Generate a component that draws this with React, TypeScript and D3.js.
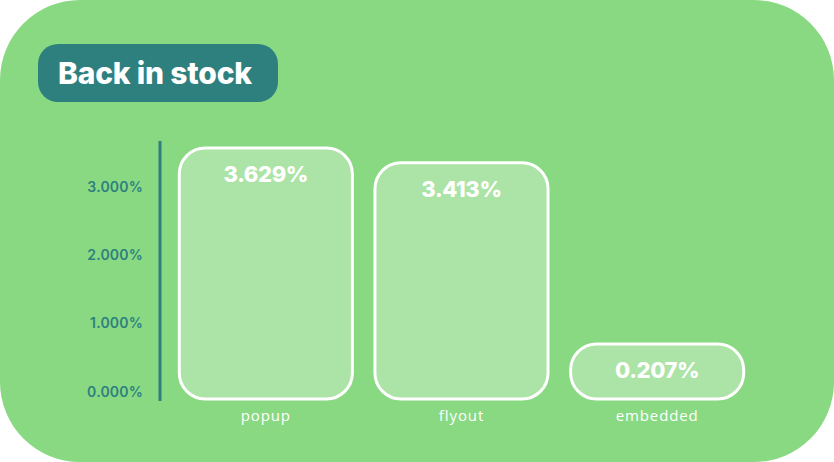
import { useEffect, useRef } from 'react';
import * as d3 from 'd3';

const categories = ['popup', 'flyout', 'embedded'];
const values = [3.629, 3.413, 0.207];
const yTicks = [0, 1, 2, 3];
const title = 'Back in stock';

const WIDTH = 834;
const HEIGHT = 462;
const BG = '#88d982';
const BAR_FILL = '#ace3a6';
const TEAL = '#2e807f';
const MIN_BAR = 55;

export default function App() {
  const ref = useRef<SVGSVGElement>(null);

  useEffect(() => {
    document.body.style.margin = '0';
    const svg = d3.select(ref.current!);
    svg.selectAll('*').remove();

    // card background
    svg
      .append('rect')
      .attr('width', WIDTH)
      .attr('height', HEIGHT)
      .attr('rx', 80)
      .attr('fill', BG);

    // title pill
    svg
      .append('rect')
      .attr('x', 38)
      .attr('y', 44)
      .attr('width', 240)
      .attr('height', 58)
      .attr('rx', 20)
      .attr('fill', TEAL);
    svg
      .append('text')
      .attr('x', 58)
      .attr('y', 84)
      .attr('fill', '#fff')
      .attr('font-family', 'Inter, sans-serif')
      .attr('font-weight', 800)
      .attr('font-size', 30)
      .attr('letter-spacing', -0.2)
      .text(title);

    const xScale = d3
      .scaleBand<string>()
      .domain(categories)
      .range([168, 755])
      .paddingInner(0.1)
      .paddingOuter(0.05);

    const yScale = d3.scaleLinear().domain([0, 3]).range([396, 191]);

    // y axis
    const yAxis = svg.append('g').attr('transform', 'translate(160,0)');
    yAxis
      .append('line')
      .attr('y1', 141)
      .attr('y2', 401)
      .attr('stroke', TEAL)
      .attr('stroke-width', 3);
    yAxis
      .selectAll('text')
      .data(yTicks)
      .enter()
      .append('text')
      .attr('x', -17)
      .attr('y', (d) => yScale(d) - 3)
      .attr('text-anchor', 'end')
      .attr('dominant-baseline', 'middle')
      .attr('fill', TEAL)
      .attr('font-family', 'Inter, sans-serif')
      .attr('font-weight', 600)
      .attr('font-size', 14)
      .attr('letter-spacing', 0.2)
      .text((d) => `${d.toFixed(3)}%`);

    const data = categories.map((c, i) => ({ c, v: values[i] }));
    const bottom = yScale(0) + 3;
    const barTop = (v: number) => Math.min(yScale(v), bottom - MIN_BAR);

    const bars = svg.append('g');
    bars
      .selectAll('rect')
      .data(data)
      .enter()
      .append('rect')
      .attr('x', (d) => xScale(d.c)! + 1.5)
      .attr('y', (d) => barTop(d.v))
      .attr('width', xScale.bandwidth() - 3)
      .attr('height', (d) => bottom - barTop(d.v))
      .attr('rx', 26)
      .attr('fill', BAR_FILL)
      .attr('stroke', '#fff')
      .attr('stroke-width', 3);

    bars
      .selectAll('text.value')
      .data(data)
      .enter()
      .append('text')
      .attr('class', 'value')
      .attr('x', (d) => xScale(d.c)! + xScale.bandwidth() / 2)
      .attr('y', (d) => barTop(d.v) + 34)
      .attr('text-anchor', 'middle')
      .attr('fill', '#fff')
      .attr('font-family', 'Inter, sans-serif')
      .attr('font-weight', 800)
      .attr('font-size', 22)
      .attr('letter-spacing', -0.4)
      .text((d) => `${d.v.toFixed(3)}%`);

    bars
      .selectAll('text.cat')
      .data(data)
      .enter()
      .append('text')
      .attr('class', 'cat')
      .attr('x', (d) => xScale(d.c)! + xScale.bandwidth() / 2)
      .attr('y', 421)
      .attr('text-anchor', 'middle')
      .attr('fill', '#fff')
      .attr('font-family', '"Open Sans", sans-serif')
      .attr('font-size', 15)
      .attr('letter-spacing', 0.9)
      .text((d) => d.c);
  }, []);

  return <svg ref={ref} width={WIDTH} height={HEIGHT} style={{ display: 'block' }} />;
}
